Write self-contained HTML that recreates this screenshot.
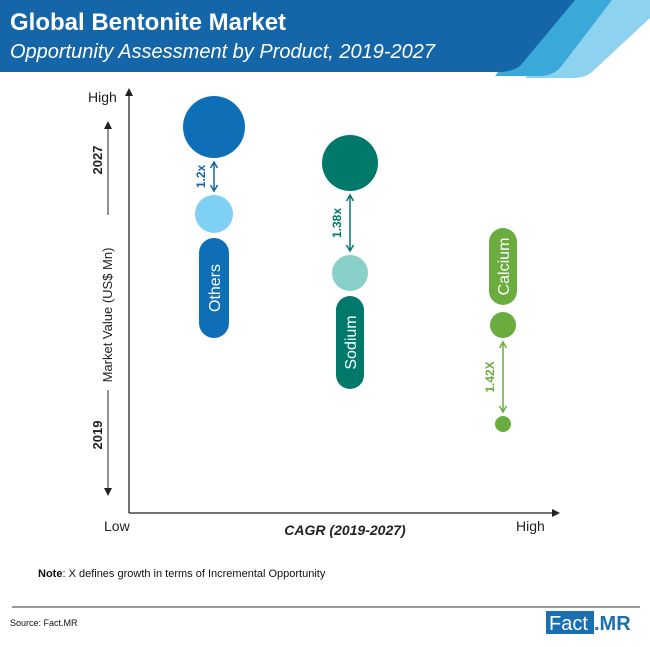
<!DOCTYPE html>
<html><head><meta charset="utf-8"><style>
html,body{margin:0;padding:0;background:#fff;}
svg{display:block;font-family:"Liberation Sans",sans-serif;}
</style></head><body>
<svg id="chart" width="650" height="647" viewBox="0 0 650 647">
<defs>
<marker id="ah" markerWidth="8" markerHeight="8" refX="4" refY="4" orient="auto-start-reverse" markerUnits="userSpaceOnUse"><path d="M0,0 L8,4 L0,8 z" fill="#222"/></marker>
</defs>
<g>
<path d="M600,0 L650,0 L650,18 L592,72 Q585,78 572,78 L525,78 Z" fill="#8dd3ef"/>
<path d="M560,0 L612,0 L560,68 Q552,76 540,76 L495,76 Z" fill="#3aa8d8"/>
<path d="M0,0 L575,0 L520,66 Q512,72 498,72 L0,72 Z" fill="#1466a9"/>
<text x="10" y="30" font-size="24" font-weight="bold" fill="#fff">Global Bentonite Market</text>
<text x="10" y="58" font-size="20" font-style="italic" fill="#fff">Opportunity Assessment by Product, 2019-2027</text>
</g>
<g>
<line x1="129" y1="513" x2="129" y2="92" stroke="#222" stroke-width="1.3" marker-end="url(#ah)"/>
<line x1="129" y1="513" x2="556" y2="513" stroke="#222" stroke-width="1.3" marker-end="url(#ah)"/>
<text x="88" y="102" font-size="14" fill="#222">High</text>
<text x="104" y="531" font-size="14" fill="#222">Low</text>
<text x="516" y="531" font-size="14" fill="#222">High</text>
<text x="345" y="535" font-size="14" font-weight="bold" font-style="italic" fill="#222" text-anchor="middle">CAGR (2019-2027)</text>
<text transform="translate(102,160) rotate(-90)" font-size="13" font-weight="bold" fill="#222" text-anchor="middle">2027</text>
<line x1="108" y1="215" x2="108" y2="125" stroke="#222" stroke-width="1" marker-end="url(#ah)"/>
<text transform="translate(112,315) rotate(-90)" font-size="13" fill="#222" text-anchor="middle">Market Value (US$ Mn)</text>
<text transform="translate(102,435) rotate(-90)" font-size="13" font-weight="bold" fill="#222" text-anchor="middle">2019</text>
<line x1="108" y1="390" x2="108" y2="492" stroke="#222" stroke-width="1" marker-end="url(#ah)"/>
</g>
<g id="marks"></g>
<text x="38" y="577" font-size="11" fill="#111"><tspan font-weight="bold">Note</tspan>: X defines growth in terms of Incremental Opportunity</text>
<line x1="12" y1="607" x2="640" y2="607" stroke="#999" stroke-width="2"/>
<text x="10" y="626" font-size="9" fill="#111">Source: Fact.MR</text>
<g>
<rect x="546" y="611" width="48" height="23" fill="#1a6fb0"/>
<text x="549" y="630" font-size="20" fill="#fff">Fact</text>
<text x="594" y="630" font-size="20" font-weight="bold" fill="#1a6fb0">.MR</text>
</g>
</svg>
<script>
const categories = ["Others", "Sodium", "Calcium"];
const cagr = [20, 52, 88];
const value2027 = [93.25, 84.25, 43.75];
const value2019 = [71.5, 56.75, 19];
const size2027 = [31, 28, 13];
const size2019 = [19, 18, 8];
const growthLabels = ["1.2x", "1.38x", "1.42X"];
const color2027 = ["#0f6fb6", "#00796b", "#6aac3e"];
const color2019 = ["#7fd0f5", "#88d0c8", "#6aac3e"];
const labelColor = ["#1466a9", "#00796b", "#6aac3e"];

const NS = "http://www.w3.org/2000/svg";
const xScale = c => 129 + c * 4.25;
const yScale = v => 500 - v * 4;
const g = document.getElementById("marks");
function mk(tag, attrs){const e=document.createElementNS(NS,tag);for(const k in attrs)e.setAttribute(k,attrs[k]);g.appendChild(e);return e;}

categories.forEach((cat,i)=>{
  const x = xScale(cagr[i]);
  const y27 = yScale(value2027[i]), y19 = yScale(value2019[i]);
  const r27 = size2027[i], r19 = size2019[i];
  const b1 = mk("circle",{cx:x,cy:y27,r:r27,fill:color2027[i]});
  
  
  const b2 = mk("circle",{cx:x,cy:y19,r:r19,fill:color2019[i]});
  
  
  const a1 = y27 + r27 + 4, a2 = y19 - r19 - 4;
  const ar = mk("path",{d:`M${x},${a1} L${x},${a2} M${x-3.5},${a1+6} L${x},${a1} L${x+3.5},${a1+6} M${x-3.5},${a2-6} L${x},${a2} L${x+3.5},${a2-6}`,stroke:labelColor[i],"stroke-width":1.5,fill:"none"});
  
  
  const gl = mk("text",{transform:`translate(${x-9},${(a1+a2)/2}) rotate(-90)`,"font-size":12,"font-weight":"bold",fill:labelColor[i],"text-anchor":"middle"});
  gl.textContent = growthLabels[i];
  
  
  // pill
  let py1, py2;
  if (i === 2) { py2 = y27 - r27 - 7; py1 = py2 - 77; }
  else { py1 = y19 + r19 + 5; py2 = py1 + (i===0?100:93); }
  const pw = i===0?30:28;
  const pill = mk("rect",{x:x-pw/2,y:py1,width:pw,height:py2-py1,rx:pw/2,fill:color2027[i]});
  
  
  const pt = mk("text",{transform:`translate(${x+6},${(py1+py2)/2}) rotate(-90)`,"font-size":16,fill:"#fff","text-anchor":"middle"});
  pt.textContent = cat;
  
  
});
</script>
</body></html>
